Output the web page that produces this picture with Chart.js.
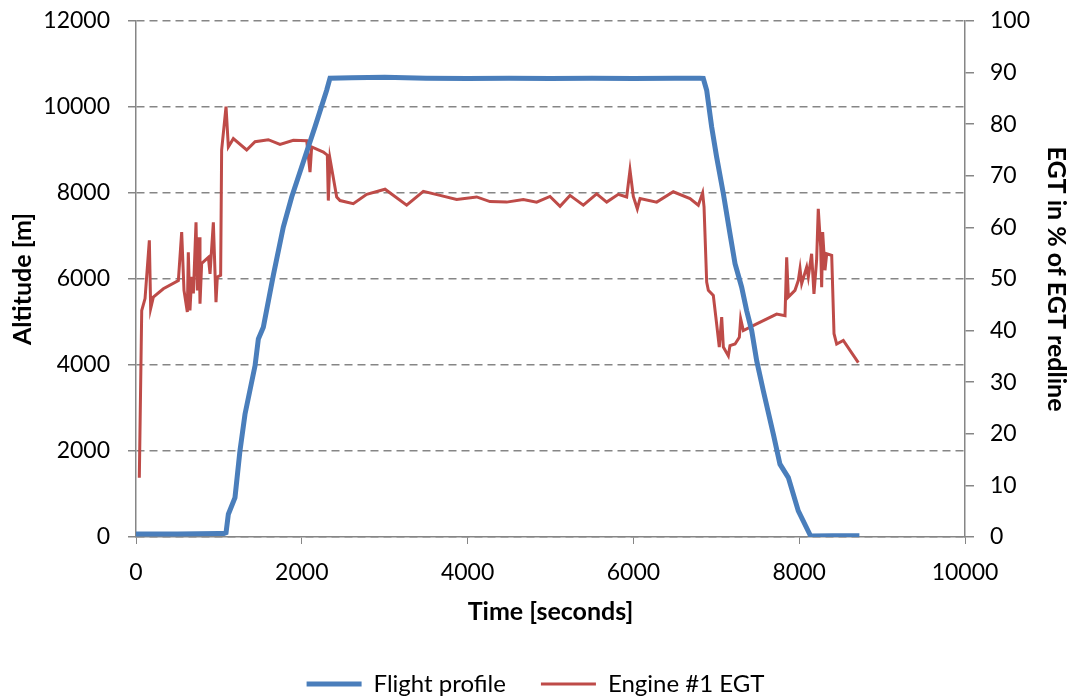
<!DOCTYPE html>
<html>
<head>
<meta charset="utf-8">
<script src="https://cdn.jsdelivr.net/npm/chart.js@4"></script>
<style>
  html, body { margin: 0; padding: 0; background: #fff; }
  #wrap { width: 1071px; height: 698px; }
</style>
</head>
<body>
<div id="wrap"><canvas id="chart1"></canvas></div>
<script>
"use strict";
// flight profile: time [s] and altitude [m]
const profileTime = [0, 500, 1000, 1060, 1086, 1114, 1194, 1254, 1315, 1436, 1476, 1536, 1656, 1777, 1878, 2018, 2159, 2300, 2340,
    2600, 3000, 3500, 4000, 4500, 5000, 5500, 6000, 6500, 6800, 6843, 6884, 6944, 7004, 7085, 7165, 7226, 7306, 7366, 7427,
    7487, 7567, 7688, 7768, 7869, 7989, 8138, 8400, 8726];
const profileAlt = [70, 70, 80, 80, 100, 529, 916, 2004, 2859, 3984, 4606, 4877, 6081, 7207, 7906, 8721, 9537, 10391, 10670,
    10680, 10690, 10670, 10660, 10670, 10660, 10670, 10660, 10670, 10670, 10664, 10391, 9537, 8837, 7985, 7052, 6354, 5809, 5266, 4800,
    4101, 3402, 2392, 1693, 1382, 606, 23, 30, 30];

// engine #1 EGT: time [s] and % of redline
const egtTime = [40, 69, 109, 161, 177, 209, 330, 511, 551, 579, 619, 631, 651, 672, 692, 724, 740, 760, 772, 792, 873, 893, 933,
    965, 981, 1021, 1033, 1086, 1114, 1174, 1335, 1436, 1596, 1737, 1898, 2059, 2099, 2119, 2260, 2308, 2320, 2340, 2421,
    2461, 2621, 2783, 3004, 3265, 3466, 3667, 3868, 4109, 4270, 4471, 4672, 4833, 4994, 5115, 5235, 5396, 5557, 5678,
    5818, 5919, 5959, 5999, 6047, 6080, 6281, 6481, 6683, 6783, 6835, 6852, 6884, 6904, 6964, 7004, 7036, 7065, 7085,
    7145, 7165, 7226, 7278, 7294, 7326, 7487, 7728, 7829, 7849, 7869, 7949, 7989, 8010, 8030, 8090, 8110, 8150, 8178,
    8210, 8230, 8259, 8271, 8283, 8311, 8332, 8392, 8420, 8452, 8532, 8713];
const egtValue = [11.5, 43.9, 46.2, 57.5, 44.3, 46.5, 48.1, 49.7, 59.1, 47.8, 43.6, 55.2, 43.9, 50.4, 47.2, 61.0, 47.8, 58.1, 45.2,
    53.0, 54.2, 51.0, 61.0, 45.5, 50.4, 50.7, 75.0, 83.4, 75.6, 77.2, 75.0, 76.6, 77.0, 76.1, 76.9, 76.8, 70.7, 75.6, 74.6,
    74.0, 65.2, 73.3, 65.9, 65.2, 64.6, 66.4, 67.4, 64.3, 67.0, 66.2, 65.4, 65.9, 65.0, 64.9, 65.4, 64.9, 66.0, 64.1, 66.2,
    64.3, 66.5, 64.9, 66.4, 65.9, 71.1, 66.0, 63.6, 65.6, 64.9, 66.9, 65.6, 64.3, 66.7, 64.0, 49.4, 47.8, 46.8, 41.3, 36.8,
    42.6, 36.8, 35.1, 37.1, 37.4, 38.7, 42.3, 40.0, 41.3, 43.2, 42.9, 54.2, 46.5, 47.8, 49.7, 52.0, 49.1, 52.3, 50.4, 54.9,
    47.1, 53.6, 63.6, 56.2, 48.4, 59.1, 51.7, 54.9, 54.6, 39.4, 37.4, 38.1, 33.8];

const timeTicks = [0, 2000, 4000, 6000, 8000, 10000];

const axisGray = "#868686";
const fontFamily = "Lato, 'Open Sans', sans-serif";
const tickFont = { family: fontFamily, size: 23 };
const titleFont = { family: fontFamily, size: 25, weight: "bold" };
const plainNumber = (v) => String(v);

// fixed side widths, and no extra top/bottom padding from the tick labels
const fitSide = (w) => (scale) => {
    scale.width = w;
    scale.paddingTop = 0;
    scale.paddingBottom = 0;
};

// push the legend row a little lower than Chart.js puts it
const legendNudge = {
    id: "legendNudge",
    afterLayout(chart) {
        chart.legend.top += 8;
        chart.legend.bottom += 8;
    },
};

const chart1Data = {
    datasets: [
        {
            label: "Flight profile",
            data: profileTime.map((t, i) => ({ x: t, y: profileAlt[i] })),
            borderColor: "#4a7ebb",
            backgroundColor: "#4a7ebb",
            borderWidth: 5,
            pointRadius: 0,
            pointStyle: "line",
            tension: 0,
            yAxisID: "y",
        },
        {
            label: "Engine #1 EGT",
            data: egtTime.map((t, i) => ({ x: t, y: egtValue[i] })),
            borderColor: "#be4b48",
            backgroundColor: "#be4b48",
            borderWidth: 3,
            pointRadius: 0,
            pointStyle: "line",
            tension: 0,
            yAxisID: "y1",
        },
    ],
};

const chart1Config = {
    type: "line",
    data: chart1Data,
    plugins: [legendNudge],
    options: {
        responsive: true,
        maintainAspectRatio: false,
        animation: false,
        layout: { padding: { top: 21, left: 0, right: 0, bottom: 0 } },
        plugins: {
            tooltip: { enabled: false },
            legend: {
                position: "bottom",
                labels: {
                    usePointStyle: true,
                    pointStyleWidth: 55,
                    padding: 35,
                    color: "#000",
                    font: { family: fontFamily, size: 24 },
                },
            },
        },
        scales: {
            x: {
                type: "linear",
                min: 0,
                max: 10000,
                afterBuildTicks: (scale) => { scale.ticks = timeTicks.map((v) => ({ value: v })); },
                afterFit: (scale) => { scale.height = 92; },
                grid: { drawOnChartArea: false, tickLength: 7, color: axisGray },
                border: { color: axisGray, width: 1.5 },
                ticks: { color: "#000", padding: 15, font: tickFont, callback: plainNumber },
                title: {
                    display: true,
                    text: "Time [seconds]",
                    color: "#000",
                    padding: { top: 0, bottom: 2 },
                    font: titleFont,
                },
            },
            y: {
                position: "left",
                min: 0,
                max: 12000,
                afterFit: fitSide(136),
                ticks: { stepSize: 2000, color: "#000", padding: 18, font: tickFont, callback: plainNumber },
                grid: { color: axisGray, lineWidth: 1.5, tickLength: 8, tickBorderDash: [] },
                border: { color: axisGray, width: 1.5, dash: [8, 5] },
                title: {
                    display: true,
                    text: "Altitude [m]",
                    color: "#000",
                    padding: { top: 8, bottom: 0 },
                    font: titleFont,
                },
            },
            y1: {
                position: "right",
                min: 0,
                max: 100,
                afterFit: fitSide(106),
                ticks: { stepSize: 10, color: "#000", padding: 16, font: tickFont, callback: plainNumber },
                grid: { drawOnChartArea: false, tickLength: 9, color: axisGray, lineWidth: 1.5 },
                border: { color: axisGray, width: 1.5 },
                title: {
                    display: true,
                    text: "EGT in % of EGT redline",
                    color: "#000",
                    padding: { top: 0, bottom: 0 },
                    font: titleFont,
                },
            },
        },
    },
};

new Chart(document.querySelector("#chart1"), chart1Config);
</script>
</body>
</html>
